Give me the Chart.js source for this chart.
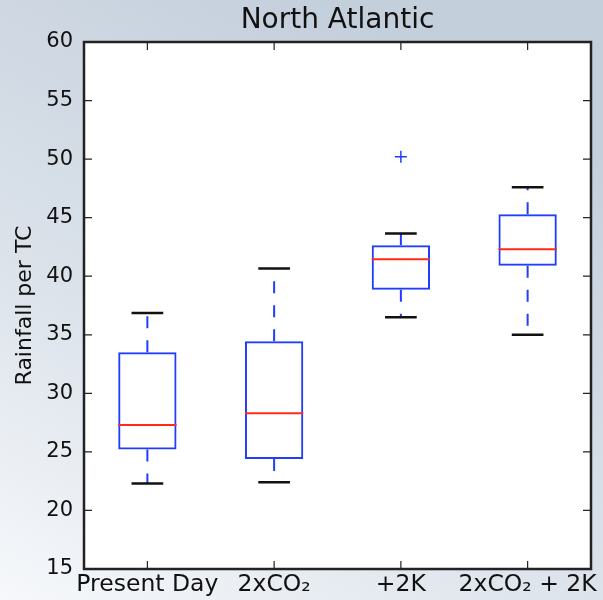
<!DOCTYPE html>
<html>
<head>
<meta charset="utf-8">
<script src="https://cdn.jsdelivr.net/npm/chart.js@4/dist/chart.umd.min.js"></script>
<style>
  html, body { margin: 0; padding: 0; background: #fff; }
  #wrap { width: 603px; height: 600px; }
</style>
</head>
<body>
<div id="wrap"><canvas id="c" width="603" height="600"></canvas></div>
<script>
// ---- data ----
const categories  = ['Present Day', '2xCO\u2082', '+2K', '2xCO\u2082 + 2K'];
const whiskerLow  = [22.3, 22.4, 36.5, 35.0];
const q1          = [25.2, 24.4, 38.85, 40.9];
const median      = [27.3, 28.3, 41.45, 42.3];
const q3          = [33.5, 34.45, 42.65, 45.3];
const whiskerHigh = [36.85, 40.65, 43.65, 47.6];
const outliers    = [null, null, 50.2, null];
const yTickValues = [15, 20, 25, 30, 35, 40, 45, 50, 55, 60];

const BLUE = '#1f3dff';
const RED = '#ff2a1a';
const CAP = '#111111';
const AXIS = '#222222';
const FONT = "'DejaVu Sans', 'Liberation Sans', sans-serif";

const bgPlugin = {
  id: 'bg',
  afterLayout(chart) {
    // centre the title over the plot area, as in the reference
    const a = chart.chartArea;
    if (chart.titleBlock) {
      chart.titleBlock.left = a.left;
      chart.titleBlock.right = a.right;
    }
  },
  beforeDraw(chart) {
    const ctx = chart.ctx, w = chart.width, h = chart.height, a = chart.chartArea;
    ctx.save();
    const g = ctx.createLinearGradient(0, h, w * 0.55, 0);
    g.addColorStop(0, '#f6f8fb');
    g.addColorStop(0.45, '#dbe2ea');
    g.addColorStop(1, '#c4cfdc');
    ctx.fillStyle = g;
    ctx.fillRect(0, 0, w, h);
    ctx.fillStyle = '#ffffff';
    ctx.fillRect(a.left, a.top, a.right - a.left, a.bottom - a.top);
    ctx.restore();
  }
};

const boxPlugin = {
  id: 'boxparts',
  afterDatasetsDraw(chart) {
    const ctx = chart.ctx, xs = chart.scales.x, ys = chart.scales.y;
    const bars = chart.getDatasetMeta(0).data;
    const catW = (xs.right - xs.left) / categories.length;
    ctx.save();
    categories.forEach((c, i) => {
      const cx = xs.getPixelForValue(i);
      const yLo = ys.getPixelForValue(whiskerLow[i]);
      const yQ1 = ys.getPixelForValue(q1[i]);
      const yMed = ys.getPixelForValue(median[i]);
      const yQ3 = ys.getPixelForValue(q3[i]);
      const yHi = ys.getPixelForValue(whiskerHigh[i]);
      // whiskers (dashed)
      ctx.strokeStyle = BLUE;
      ctx.lineWidth = 2;
      ctx.setLineDash([12, 12]);
      ctx.beginPath();
      ctx.moveTo(cx, yQ3); ctx.lineTo(cx, yHi);
      ctx.stroke();
      ctx.beginPath();
      ctx.moveTo(cx, yQ1); ctx.lineTo(cx, yLo);
      ctx.stroke();
      ctx.setLineDash([]);
      // caps
      const hw = catW * 0.125;
      ctx.strokeStyle = CAP;
      ctx.lineWidth = 2.5;
      ctx.beginPath();
      ctx.moveTo(cx - hw, yHi); ctx.lineTo(cx + hw, yHi);
      ctx.moveTo(cx - hw, yLo); ctx.lineTo(cx + hw, yLo);
      ctx.stroke();
      // median
      const bw = bars[i].width;
      ctx.strokeStyle = RED;
      ctx.lineWidth = 2;
      ctx.beginPath();
      ctx.moveTo(bars[i].x - bw / 2, yMed); ctx.lineTo(bars[i].x + bw / 2, yMed);
      ctx.stroke();
    });
    ctx.restore();
  },
  afterDraw(chart) {
    const ctx = chart.ctx, xs = chart.scales.x, ys = chart.scales.y, a = chart.chartArea;
    ctx.save();
    ctx.strokeStyle = AXIS;
    ctx.lineWidth = 1.2;
    const tl = 8;
    ctx.beginPath();
    ys.ticks.forEach((t, k) => {
      const y = ys.getPixelForTick(k);
      ctx.moveTo(a.left, y); ctx.lineTo(a.left + tl, y);
      ctx.moveTo(a.right, y); ctx.lineTo(a.right - tl, y);
    });
    xs.ticks.forEach((t, k) => {
      const x = xs.getPixelForTick(k);
      ctx.moveTo(x, a.top); ctx.lineTo(x, a.top + tl);
      ctx.moveTo(x, a.bottom); ctx.lineTo(x, a.bottom - tl);
    });
    ctx.stroke();
    ctx.lineWidth = 2.5;
    ctx.strokeRect(a.left, a.top, a.right - a.left, a.bottom - a.top);
    ctx.restore();
  }
};

new Chart(document.getElementById('c'), {
  type: 'bar',
  data: {
    labels: categories,
    datasets: [
      {
        type: 'bar',
        data: categories.map((c, i) => [q1[i], q3[i]]),
        backgroundColor: 'rgba(0,0,0,0)',
        borderColor: BLUE,
        borderWidth: 2,
        borderSkipped: false,
        categoryPercentage: 1,
        barPercentage: 0.46
      },
      {
        type: 'line',
        data: outliers,
        showLine: false,
        pointStyle: 'cross',
        pointRadius: 6,
        pointBorderWidth: 1.5,
        borderColor: BLUE,
        backgroundColor: BLUE
      }
    ]
  },
  options: {
    responsive: false,
    animation: false,
    layout: { padding: { left: 0, right: 12, top: 0, bottom: 0 } },
    plugins: {
      legend: { display: false },
      tooltip: { enabled: false },
      title: {
        display: true,
        text: 'North Atlantic',
        color: '#111',
        font: { family: FONT, size: 28, weight: 'normal', lineHeight: 1.15 },
        padding: { top: 5, bottom: 4.8 }
      }
    },
    scales: {
      x: {
        offset: true,
        grid: { display: false, drawTicks: false },
        border: { display: false },
        ticks: {
          color: '#111',
          font: { family: FONT, size: 23.5 },
          padding: 2,
          maxRotation: 0,
          minRotation: 0,
          autoSkip: false
        },
        afterFit(s) { s.height = 31; }
      },
      y: {
        min: 15,
        max: 60,
        grid: { display: false, drawTicks: false },
        border: { display: false },
        afterBuildTicks(s) { s.ticks = yTickValues.map(v => ({ value: v })); },
        ticks: {
          color: '#111',
          font: { family: FONT, size: 21 },
          padding: 11
        },
        title: {
          display: true,
          text: 'Rainfall per TC',
          color: '#111',
          font: { family: FONT, size: 22, lineHeight: 1.2 },
          padding: { top: 12, bottom: 0 }
        },
        afterFit(s) { s.width = 84; }
      }
    }
  },
  plugins: [bgPlugin, boxPlugin]
});
</script>
</body>
</html>
